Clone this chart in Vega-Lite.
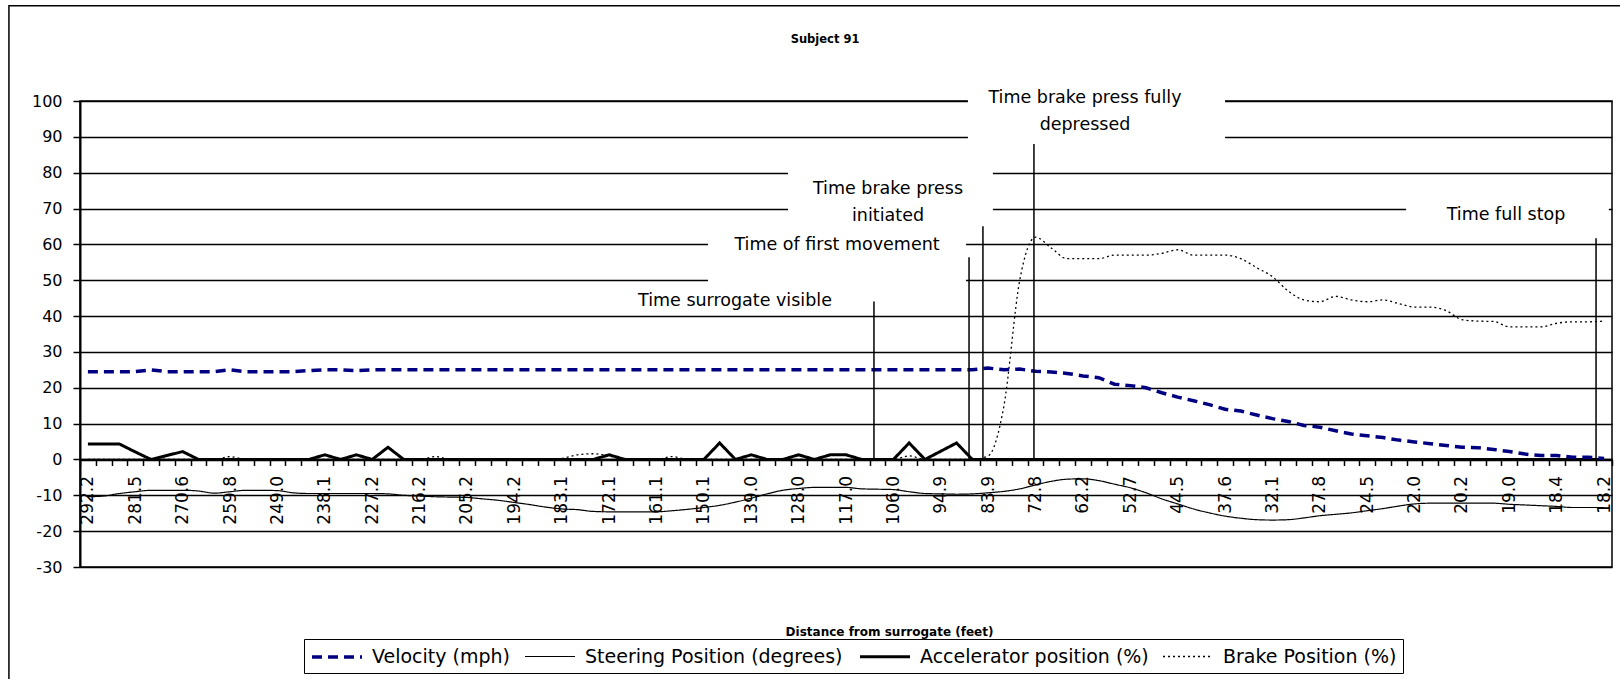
{
  "$schema": "https://vega.github.io/schema/vega-lite/v6.json",
  "width": 1532,
  "height": 466,
  "autosize": {"type": "none"},
  "padding": {"left": 80, "top": 101, "right": 8, "bottom": 112},
  "background": "white",
  "title": {"text": "Subject 91", "font": "DejaVu Sans", "fontSize": 11.5, "fontWeight": "bold", "color": "black", "anchor": "middle", "dx": -21, "offset": -41, "frame": "group"},
  "config": {
    "view": {"stroke": "black", "strokeWidth": 1.5},
    "font": "DejaVu Sans",
    "axisY": {"grid": true, "gridColor": "black", "gridWidth": 1.5, "gridOpacity": 1, "tickCount": 13, "domainColor": "black", "domainWidth": 2, "tickColor": "black", "tickSize": 7, "tickWidth": 1.5, "labelFont": "DejaVu Sans", "labelFontSize": 16, "labelColor": "black", "labelPadding": 11},
    "legend": {"orient": "none", "legendX": 224, "legendY": 538, "direction": "horizontal", "columns": 4, "symbolType": "M-1,0H4", "symbolSize": 400, "labelFont": "DejaVu Sans", "labelFontSize": 19, "labelColor": "black", "strokeColor": "black", "padding": 6, "columnPadding": 11, "labelOffset": 38, "labelLimit": 400}
  },
  "datasets": {
    "series": [
      {"d": "292.2", "Velocity (mph)": 24.5, "Steering Position (degrees)": -10.4, "Accelerator position (%)": 4.3, "Brake Position (%)": 0},
      {"d": "288.6", "Velocity (mph)": 24.5, "Steering Position (degrees)": -10.2, "Accelerator position (%)": 4.3, "Brake Position (%)": 0},
      {"d": "285.0", "Velocity (mph)": 24.5, "Steering Position (degrees)": -9.5, "Accelerator position (%)": 4.3, "Brake Position (%)": 0},
      {"d": "281.5", "Velocity (mph)": 24.5, "Steering Position (degrees)": -9.0, "Accelerator position (%)": 2.1, "Brake Position (%)": 0},
      {"d": "277.9", "Velocity (mph)": 25, "Steering Position (degrees)": -8.6, "Accelerator position (%)": 0, "Brake Position (%)": 0},
      {"d": "274.2", "Velocity (mph)": 24.5, "Steering Position (degrees)": -8.6, "Accelerator position (%)": 1.1, "Brake Position (%)": 0},
      {"d": "270.6", "Velocity (mph)": 24.5, "Steering Position (degrees)": -8.6, "Accelerator position (%)": 2.2, "Brake Position (%)": 0},
      {"d": "267.0", "Velocity (mph)": 24.5, "Steering Position (degrees)": -8.8, "Accelerator position (%)": 0, "Brake Position (%)": 0},
      {"d": "263.4", "Velocity (mph)": 24.5, "Steering Position (degrees)": -9.4, "Accelerator position (%)": 0, "Brake Position (%)": 0},
      {"d": "259.8", "Velocity (mph)": 25, "Steering Position (degrees)": -9.0, "Accelerator position (%)": 0, "Brake Position (%)": 0.8},
      {"d": "256.2", "Velocity (mph)": 24.5, "Steering Position (degrees)": -8.6, "Accelerator position (%)": 0, "Brake Position (%)": 0},
      {"d": "252.6", "Velocity (mph)": 24.5, "Steering Position (degrees)": -8.6, "Accelerator position (%)": 0, "Brake Position (%)": 0},
      {"d": "249.0", "Velocity (mph)": 24.5, "Steering Position (degrees)": -8.7, "Accelerator position (%)": 0, "Brake Position (%)": 0},
      {"d": "245.4", "Velocity (mph)": 24.5, "Steering Position (degrees)": -9.3, "Accelerator position (%)": 0, "Brake Position (%)": 0},
      {"d": "241.7", "Velocity (mph)": 24.8, "Steering Position (degrees)": -9.5, "Accelerator position (%)": 0, "Brake Position (%)": 0},
      {"d": "238.1", "Velocity (mph)": 25, "Steering Position (degrees)": -9.5, "Accelerator position (%)": 1.3, "Brake Position (%)": 0},
      {"d": "234.5", "Velocity (mph)": 25, "Steering Position (degrees)": -9.5, "Accelerator position (%)": 0, "Brake Position (%)": 0},
      {"d": "230.8", "Velocity (mph)": 24.8, "Steering Position (degrees)": -9.5, "Accelerator position (%)": 1.3, "Brake Position (%)": 0},
      {"d": "227.2", "Velocity (mph)": 25, "Steering Position (degrees)": -9.5, "Accelerator position (%)": 0, "Brake Position (%)": 0},
      {"d": "223.5", "Velocity (mph)": 25, "Steering Position (degrees)": -9.6, "Accelerator position (%)": 3.4, "Brake Position (%)": 0},
      {"d": "219.9", "Velocity (mph)": 25, "Steering Position (degrees)": -10.0, "Accelerator position (%)": 0, "Brake Position (%)": 0},
      {"d": "216.2", "Velocity (mph)": 25, "Steering Position (degrees)": -10.2, "Accelerator position (%)": 0, "Brake Position (%)": 0},
      {"d": "212.5", "Velocity (mph)": 25, "Steering Position (degrees)": -10.4, "Accelerator position (%)": 0, "Brake Position (%)": 0.8},
      {"d": "208.9", "Velocity (mph)": 25, "Steering Position (degrees)": -10.5, "Accelerator position (%)": 0, "Brake Position (%)": 0},
      {"d": "205.2", "Velocity (mph)": 25, "Steering Position (degrees)": -10.6, "Accelerator position (%)": 0, "Brake Position (%)": 0},
      {"d": "201.5", "Velocity (mph)": 25, "Steering Position (degrees)": -11.0, "Accelerator position (%)": 0, "Brake Position (%)": 0},
      {"d": "197.9", "Velocity (mph)": 25, "Steering Position (degrees)": -11.4, "Accelerator position (%)": 0, "Brake Position (%)": 0},
      {"d": "194.2", "Velocity (mph)": 25, "Steering Position (degrees)": -12.0, "Accelerator position (%)": 0, "Brake Position (%)": 0},
      {"d": "190.5", "Velocity (mph)": 25, "Steering Position (degrees)": -12.6, "Accelerator position (%)": 0, "Brake Position (%)": 0},
      {"d": "186.8", "Velocity (mph)": 25, "Steering Position (degrees)": -13.3, "Accelerator position (%)": 0, "Brake Position (%)": 0},
      {"d": "183.1", "Velocity (mph)": 25, "Steering Position (degrees)": -13.8, "Accelerator position (%)": 0, "Brake Position (%)": 0.3},
      {"d": "179.4", "Velocity (mph)": 25, "Steering Position (degrees)": -14.0, "Accelerator position (%)": 0, "Brake Position (%)": 1.3},
      {"d": "175.8", "Velocity (mph)": 25, "Steering Position (degrees)": -14.5, "Accelerator position (%)": 0, "Brake Position (%)": 1.6},
      {"d": "172.1", "Velocity (mph)": 25, "Steering Position (degrees)": -14.6, "Accelerator position (%)": 1.3, "Brake Position (%)": 1.0},
      {"d": "168.4", "Velocity (mph)": 25, "Steering Position (degrees)": -14.6, "Accelerator position (%)": 0, "Brake Position (%)": 0},
      {"d": "164.8", "Velocity (mph)": 25, "Steering Position (degrees)": -14.6, "Accelerator position (%)": 0, "Brake Position (%)": 0},
      {"d": "161.1", "Velocity (mph)": 25, "Steering Position (degrees)": -14.6, "Accelerator position (%)": 0, "Brake Position (%)": 0},
      {"d": "157.4", "Velocity (mph)": 25, "Steering Position (degrees)": -14.3, "Accelerator position (%)": 0, "Brake Position (%)": 0.8},
      {"d": "153.8", "Velocity (mph)": 25, "Steering Position (degrees)": -13.9, "Accelerator position (%)": 0, "Brake Position (%)": 0},
      {"d": "150.1", "Velocity (mph)": 25, "Steering Position (degrees)": -13.4, "Accelerator position (%)": 0, "Brake Position (%)": 0},
      {"d": "146.4", "Velocity (mph)": 25, "Steering Position (degrees)": -12.8, "Accelerator position (%)": 4.6, "Brake Position (%)": 0},
      {"d": "142.7", "Velocity (mph)": 25, "Steering Position (degrees)": -11.9, "Accelerator position (%)": 0, "Brake Position (%)": 0},
      {"d": "139.0", "Velocity (mph)": 25, "Steering Position (degrees)": -10.8, "Accelerator position (%)": 1.3, "Brake Position (%)": 0},
      {"d": "135.3", "Velocity (mph)": 25, "Steering Position (degrees)": -9.6, "Accelerator position (%)": 0, "Brake Position (%)": 0},
      {"d": "131.7", "Velocity (mph)": 25, "Steering Position (degrees)": -8.6, "Accelerator position (%)": 0, "Brake Position (%)": 0},
      {"d": "128.0", "Velocity (mph)": 25, "Steering Position (degrees)": -8.1, "Accelerator position (%)": 1.3, "Brake Position (%)": 0},
      {"d": "124.3", "Velocity (mph)": 25, "Steering Position (degrees)": -7.8, "Accelerator position (%)": 0, "Brake Position (%)": 0},
      {"d": "120.7", "Velocity (mph)": 25, "Steering Position (degrees)": -7.8, "Accelerator position (%)": 1.3, "Brake Position (%)": 0},
      {"d": "117.0", "Velocity (mph)": 25, "Steering Position (degrees)": -7.8, "Accelerator position (%)": 1.3, "Brake Position (%)": 0},
      {"d": "113.3", "Velocity (mph)": 25, "Steering Position (degrees)": -8.2, "Accelerator position (%)": 0, "Brake Position (%)": 0},
      {"d": "109.7", "Velocity (mph)": 25, "Steering Position (degrees)": -8.3, "Accelerator position (%)": 0, "Brake Position (%)": 0},
      {"d": "106.0", "Velocity (mph)": 25, "Steering Position (degrees)": -8.4, "Accelerator position (%)": 0, "Brake Position (%)": 0},
      {"d": "102.3", "Velocity (mph)": 25, "Steering Position (degrees)": -9.0, "Accelerator position (%)": 4.6, "Brake Position (%)": 1.0},
      {"d": "98.6", "Velocity (mph)": 25, "Steering Position (degrees)": -9.5, "Accelerator position (%)": 0, "Brake Position (%)": 0},
      {"d": "94.9", "Velocity (mph)": 25, "Steering Position (degrees)": -9.6, "Accelerator position (%)": 2.3, "Brake Position (%)": 0},
      {"d": "91.2", "Velocity (mph)": 25, "Steering Position (degrees)": -9.7, "Accelerator position (%)": 4.6, "Brake Position (%)": 0},
      {"d": "87.6", "Velocity (mph)": 25, "Steering Position (degrees)": -9.6, "Accelerator position (%)": 0, "Brake Position (%)": 0},
      {"d": "83.9", "Velocity (mph)": 25.5, "Steering Position (degrees)": -9.3, "Accelerator position (%)": 0, "Brake Position (%)": 1},
      {"d": "80.2", "Velocity (mph)": 25, "Steering Position (degrees)": -8.9, "Accelerator position (%)": 0, "Brake Position (%)": 15},
      {"d": "76.5", "Velocity (mph)": 25.2, "Steering Position (degrees)": -8.2, "Accelerator position (%)": 0, "Brake Position (%)": 50},
      {"d": "72.8", "Velocity (mph)": 24.6, "Steering Position (degrees)": -7.1, "Accelerator position (%)": 0, "Brake Position (%)": 62},
      {"d": "69.3", "Velocity (mph)": 24.4, "Steering Position (degrees)": -6.1, "Accelerator position (%)": 0, "Brake Position (%)": 59},
      {"d": "65.7", "Velocity (mph)": 24, "Steering Position (degrees)": -5.5, "Accelerator position (%)": 0, "Brake Position (%)": 56},
      {"d": "62.2", "Velocity (mph)": 23.3, "Steering Position (degrees)": -5.4, "Accelerator position (%)": 0, "Brake Position (%)": 56},
      {"d": "59.0", "Velocity (mph)": 22.8, "Steering Position (degrees)": -5.9, "Accelerator position (%)": 0, "Brake Position (%)": 56},
      {"d": "55.9", "Velocity (mph)": 21, "Steering Position (degrees)": -6.9, "Accelerator position (%)": 0, "Brake Position (%)": 57},
      {"d": "52.7", "Velocity (mph)": 20.6, "Steering Position (degrees)": -7.9, "Accelerator position (%)": 0, "Brake Position (%)": 57},
      {"d": "50.0", "Velocity (mph)": 20, "Steering Position (degrees)": -9.3, "Accelerator position (%)": 0, "Brake Position (%)": 57},
      {"d": "47.2", "Velocity (mph)": 18.6, "Steering Position (degrees)": -11.0, "Accelerator position (%)": 0, "Brake Position (%)": 57.5},
      {"d": "44.5", "Velocity (mph)": 17.4, "Steering Position (degrees)": -12.4, "Accelerator position (%)": 0, "Brake Position (%)": 58.5},
      {"d": "42.2", "Velocity (mph)": 16.4, "Steering Position (degrees)": -13.8, "Accelerator position (%)": 0, "Brake Position (%)": 57},
      {"d": "39.9", "Velocity (mph)": 15.3, "Steering Position (degrees)": -14.9, "Accelerator position (%)": 0, "Brake Position (%)": 57},
      {"d": "37.6", "Velocity (mph)": 14, "Steering Position (degrees)": -15.8, "Accelerator position (%)": 0, "Brake Position (%)": 57},
      {"d": "35.8", "Velocity (mph)": 13.5, "Steering Position (degrees)": -16.4, "Accelerator position (%)": 0, "Brake Position (%)": 56},
      {"d": "33.9", "Velocity (mph)": 12.4, "Steering Position (degrees)": -16.8, "Accelerator position (%)": 0, "Brake Position (%)": 53.5},
      {"d": "32.1", "Velocity (mph)": 11.4, "Steering Position (degrees)": -16.9, "Accelerator position (%)": 0, "Brake Position (%)": 51},
      {"d": "30.7", "Velocity (mph)": 10.6, "Steering Position (degrees)": -16.8, "Accelerator position (%)": 0, "Brake Position (%)": 47},
      {"d": "29.2", "Velocity (mph)": 9.5, "Steering Position (degrees)": -16.3, "Accelerator position (%)": 0, "Brake Position (%)": 44.5},
      {"d": "27.8", "Velocity (mph)": 9, "Steering Position (degrees)": -15.7, "Accelerator position (%)": 0, "Brake Position (%)": 44},
      {"d": "26.7", "Velocity (mph)": 8, "Steering Position (degrees)": -15.3, "Accelerator position (%)": 0, "Brake Position (%)": 45.5},
      {"d": "25.6", "Velocity (mph)": 7.1, "Steering Position (degrees)": -14.9, "Accelerator position (%)": 0, "Brake Position (%)": 44.5},
      {"d": "24.5", "Velocity (mph)": 6.6, "Steering Position (degrees)": -14.3, "Accelerator position (%)": 0, "Brake Position (%)": 44},
      {"d": "23.7", "Velocity (mph)": 6.1, "Steering Position (degrees)": -13.7, "Accelerator position (%)": 0, "Brake Position (%)": 44.5},
      {"d": "22.8", "Velocity (mph)": 5.4, "Steering Position (degrees)": -13.0, "Accelerator position (%)": 0, "Brake Position (%)": 43.5},
      {"d": "22.0", "Velocity (mph)": 4.9, "Steering Position (degrees)": -12.4, "Accelerator position (%)": 0, "Brake Position (%)": 42.5},
      {"d": "21.4", "Velocity (mph)": 4.4, "Steering Position (degrees)": -12.2, "Accelerator position (%)": 0, "Brake Position (%)": 42.5},
      {"d": "20.8", "Velocity (mph)": 3.9, "Steering Position (degrees)": -12.2, "Accelerator position (%)": 0, "Brake Position (%)": 41.5},
      {"d": "20.2", "Velocity (mph)": 3.4, "Steering Position (degrees)": -12.2, "Accelerator position (%)": 0, "Brake Position (%)": 39},
      {"d": "19.8", "Velocity (mph)": 3.3, "Steering Position (degrees)": -12.2, "Accelerator position (%)": 0, "Brake Position (%)": 38.6},
      {"d": "19.4", "Velocity (mph)": 2.8, "Steering Position (degrees)": -12.2, "Accelerator position (%)": 0, "Brake Position (%)": 38.5},
      {"d": "19.0", "Velocity (mph)": 2.2, "Steering Position (degrees)": -12.5, "Accelerator position (%)": 0, "Brake Position (%)": 37},
      {"d": "18.8", "Velocity (mph)": 1.5, "Steering Position (degrees)": -12.7, "Accelerator position (%)": 0, "Brake Position (%)": 37},
      {"d": "18.6", "Velocity (mph)": 1.1, "Steering Position (degrees)": -12.9, "Accelerator position (%)": 0, "Brake Position (%)": 37},
      {"d": "18.4", "Velocity (mph)": 1.1, "Steering Position (degrees)": -13.1, "Accelerator position (%)": 0, "Brake Position (%)": 38},
      {"d": "18.33", "Velocity (mph)": 0.6, "Steering Position (degrees)": -13.4, "Accelerator position (%)": 0, "Brake Position (%)": 38.4},
      {"d": "18.27", "Velocity (mph)": 0.6, "Steering Position (degrees)": -13.4, "Accelerator position (%)": 0, "Brake Position (%)": 38.4},
      {"d": "18.2", "Velocity (mph)": 0.3, "Steering Position (degrees)": -13.4, "Accelerator position (%)": 0, "Brake Position (%)": 38.6}
    ],
    "frame": [{"x1": -5.0, "x2": 110, "y1": 126.6, "y2": -80}],
    "boxes": [
      {"x1": 55.72, "x2": 72.0, "y1": 88.6, "y2": 106},
      {"x1": 44.33, "x2": 57.3, "y1": 66, "y2": 83},
      {"x1": 39.26, "x2": 55.6, "y1": 46.5, "y2": 63.5},
      {"x1": 83.46, "x2": 96.3, "y1": 65, "y2": 73}
    ],
    "rules": [
      {"event": "Time surrogate visible", "idx": 49.77, "y1": 0, "y2": 44.1},
      {"event": "Time of first movement", "idx": 55.79, "y1": 0, "y2": 56.4},
      {"event": "Time brake press initiated", "idx": 56.67, "y1": 0, "y2": 65.05},
      {"event": "Time brake press fully depressed", "idx": 59.9, "y1": 0, "y2": 88.0},
      {"event": "Time full stop", "idx": 95.49, "y1": 0, "y2": 61.7}
    ],
    "notes": [
      {"label": "Time surrogate visible", "idx": 40.97, "v": 44.1},
      {"label": "Time of first movement", "idx": 47.43, "v": 59.7},
      {"label": "Time brake press\ninitiated", "idx": 50.66, "v": 75.5},
      {"label": "Time brake press fully\ndepressed", "idx": 63.13, "v": 100.8},
      {"label": "Time full stop", "idx": 89.79, "v": 68.1}
    ]
  },
  "layer": [
    {
      "layer": [
        {
          "data": {"name": "series"},
          "transform": [{"fold": ["Steering Position (degrees)", "Brake Position (%)"], "as": ["series", "value"]}],
          "mark": {"type": "line", "interpolate": "monotone"},
          "encoding": {
            "x": {"field": "d", "type": "ordinal", "sort": null, "bandPosition": 0.5, "scale": {"type": "band", "paddingInner": 0, "paddingOuter": 0},
              "axis": {"title": "Distance from surrogate (feet)", "titleFont": "DejaVu Sans", "titleFontSize": 12, "titleFontWeight": "bold", "titleColor": "black", "titleX": 809, "titleY": 172.5, "titleAlign": "center", "titleBaseline": "middle", "offset": -107.54, "domainColor": "black", "domainWidth": 2.5, "tickColor": "black", "tickSize": 6, "tickWidth": 1.5, "tickBand": "extent", "labelAngle": 270, "labelFont": "DejaVu Sans", "labelFontSize": 17, "labelColor": "black", "labelPadding": 10, "labelOverlap": false, "labelBound": false, "labelFlush": false, "grid": false, "labelExpr": "round(datum.index * 96) % 3 === 0 ? datum.label : ''"}},
            "y": {"field": "value", "type": "quantitative", "scale": {"domain": [-30, 100], "nice": false, "zero": false}, "axis": {"title": null, "labelExpr": "'' + datum.value"}},
            "color": {"field": "series", "type": "nominal", "scale": {"domain": ["Velocity (mph)", "Steering Position (degrees)", "Accelerator position (%)", "Brake Position (%)"], "range": ["#000080", "black", "black", "black"]}, "legend": {"title": null}},
            "strokeDash": {"field": "series", "type": "nominal", "scale": {"domain": ["Velocity (mph)", "Steering Position (degrees)", "Accelerator position (%)", "Brake Position (%)"], "range": [[10, 6], [1, 0], [1, 0], [2, 3]]}, "legend": {"title": null}},
            "strokeWidth": {"field": "series", "type": "nominal", "scale": {"type": "ordinal", "domain": ["Velocity (mph)", "Steering Position (degrees)", "Accelerator position (%)", "Brake Position (%)"], "range": [3.5, 1.2, 3, 1.3]}, "legend": {"title": null}}
          }
        },
        {
          "data": {"name": "series"},
          "transform": [{"fold": ["Accelerator position (%)", "Velocity (mph)"], "as": ["series", "value"]}],
          "mark": {"type": "line"},
          "encoding": {
            "x": {"field": "d", "type": "ordinal", "sort": null, "bandPosition": 0.5, "scale": {"type": "band", "paddingInner": 0, "paddingOuter": 0},
              "axis": {"title": "Distance from surrogate (feet)", "titleFont": "DejaVu Sans", "titleFontSize": 12, "titleFontWeight": "bold", "titleColor": "black", "titleX": 809, "titleY": 172.5, "titleAlign": "center", "titleBaseline": "middle", "offset": -107.54, "domainColor": "black", "domainWidth": 2.5, "tickColor": "black", "tickSize": 6, "tickWidth": 1.5, "tickBand": "extent", "labelAngle": 270, "labelFont": "DejaVu Sans", "labelFontSize": 17, "labelColor": "black", "labelPadding": 10, "labelOverlap": false, "labelBound": false, "labelFlush": false, "grid": false, "labelExpr": "round(datum.index * 96) % 3 === 0 ? datum.label : ''"}},
            "y": {"field": "value", "type": "quantitative", "scale": {"domain": [-30, 100], "nice": false, "zero": false}, "axis": {"title": null, "labelExpr": "'' + datum.value"}},
            "color": {"field": "series", "type": "nominal", "scale": {"domain": ["Velocity (mph)", "Steering Position (degrees)", "Accelerator position (%)", "Brake Position (%)"], "range": ["#000080", "black", "black", "black"]}, "legend": {"title": null}},
            "strokeDash": {"field": "series", "type": "nominal", "scale": {"domain": ["Velocity (mph)", "Steering Position (degrees)", "Accelerator position (%)", "Brake Position (%)"], "range": [[10, 6], [1, 0], [1, 0], [2, 3]]}, "legend": {"title": null}},
            "strokeWidth": {"field": "series", "type": "nominal", "scale": {"type": "ordinal", "domain": ["Velocity (mph)", "Steering Position (degrees)", "Accelerator position (%)", "Brake Position (%)"], "range": [3.5, 1.2, 3, 1.3]}, "legend": {"title": null}}
          }
        }
      ]
    },
    {
      "layer": [
        {
          "data": {"name": "frame"},
          "mark": {"type": "rect", "fill": null, "stroke": "black", "strokeWidth": 1.5},
          "encoding": {
            "x": {"field": "x1", "type": "quantitative", "scale": {"domain": [-0.5, 96.5], "nice": false, "zero": false}, "axis": null},
            "x2": {"field": "x2"},
            "y": {"field": "y1", "type": "quantitative", "scale": {"domain": [-30, 100], "nice": false, "zero": false}, "axis": {"title": null, "labelExpr": "'' + datum.value"}},
            "y2": {"field": "y2"}
          }
        },
        {
          "data": {"name": "boxes"},
          "mark": {"type": "rect", "fill": "white", "stroke": null},
          "encoding": {
            "x": {"field": "x1", "type": "quantitative", "scale": {"domain": [-0.5, 96.5], "nice": false, "zero": false}, "axis": null},
            "x2": {"field": "x2"},
            "y": {"field": "y1", "type": "quantitative", "scale": {"domain": [-30, 100], "nice": false, "zero": false}, "axis": {"title": null, "labelExpr": "'' + datum.value"}},
            "y2": {"field": "y2"}
          }
        },
        {
          "data": {"name": "rules"},
          "mark": {"type": "rule", "color": "black", "strokeWidth": 1.5},
          "encoding": {
            "x": {"field": "idx", "type": "quantitative", "scale": {"domain": [-0.5, 96.5], "nice": false, "zero": false}, "axis": null},
            "y": {"field": "y1", "type": "quantitative", "scale": {"domain": [-30, 100], "nice": false, "zero": false}, "axis": {"title": null, "labelExpr": "'' + datum.value"}},
            "y2": {"field": "y2"}
          }
        },
        {
          "data": {"name": "notes"},
          "mark": {"type": "text", "font": "DejaVu Sans", "fontSize": 17.5, "color": "black", "align": "center", "baseline": "middle", "lineBreak": "\n", "lineHeight": 27},
          "encoding": {
            "x": {"field": "idx", "type": "quantitative", "scale": {"domain": [-0.5, 96.5], "nice": false, "zero": false}, "axis": null},
            "y": {"field": "v", "type": "quantitative", "scale": {"domain": [-30, 100], "nice": false, "zero": false}, "axis": {"title": null, "labelExpr": "'' + datum.value"}},
            "text": {"field": "label"}
          }
        }
      ]
    }
  ],
  "resolve": {"scale": {"x": "independent"}, "axis": {"x": "independent"}}
}
